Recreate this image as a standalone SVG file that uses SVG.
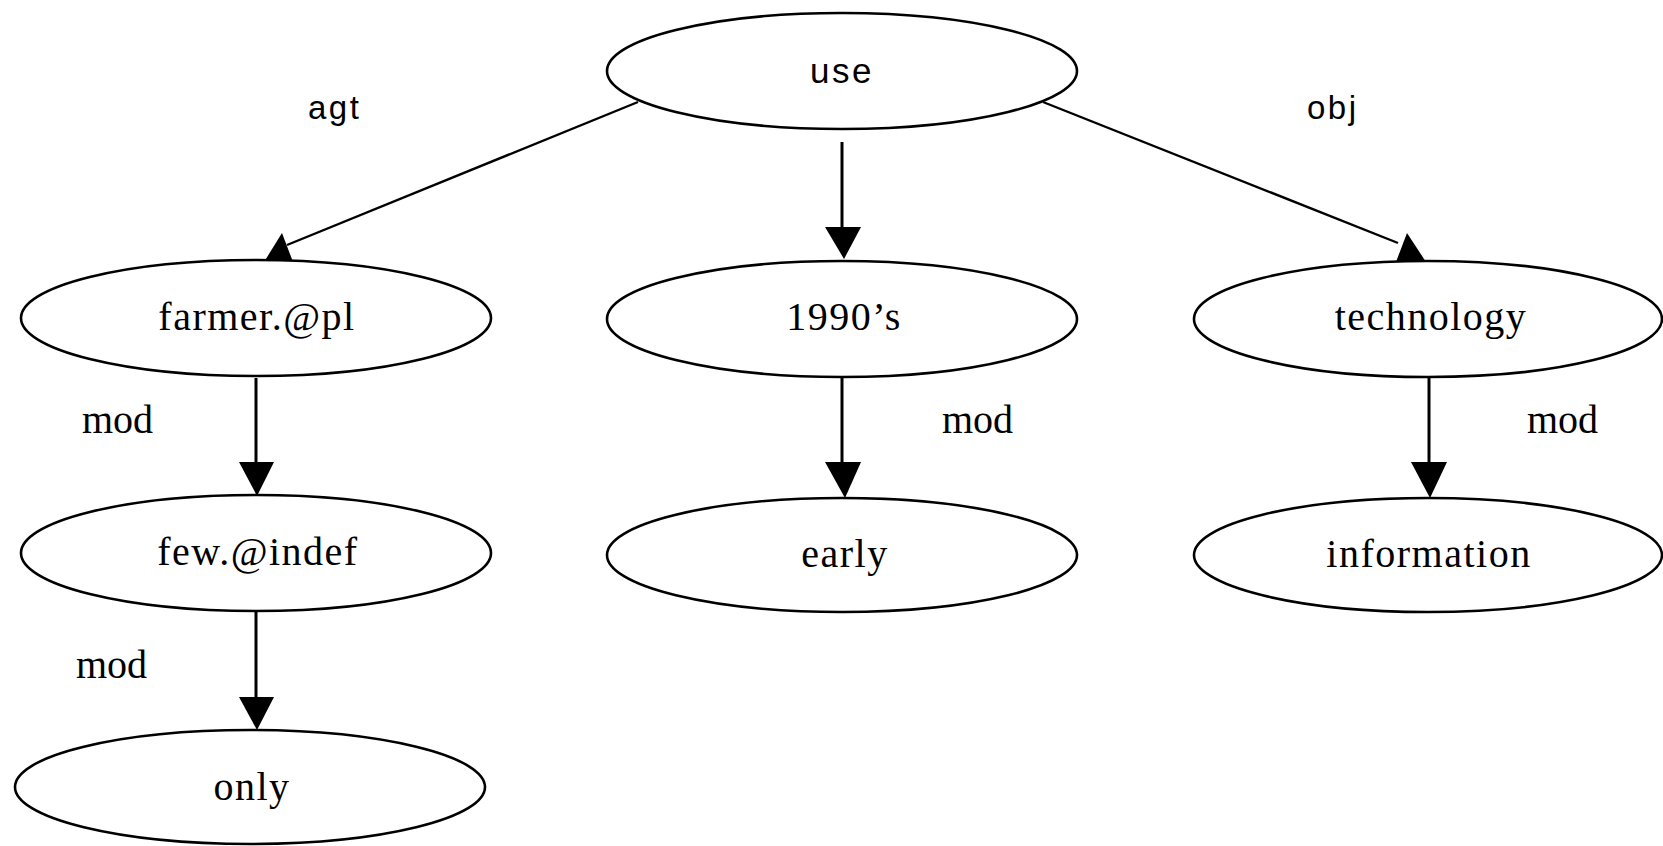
<svg xmlns="http://www.w3.org/2000/svg" width="1663" height="846" viewBox="0 0 1663 846">
  <style>
    .node { fill: #ffffff; stroke: #000000; stroke-width: 2.6; }
    .lbl { font-family: "Liberation Serif", "Times New Roman", serif; font-size: 40px; letter-spacing: 1.5px; fill: #000000; text-anchor: middle; }
    .rel { font-family: "Liberation Serif", "Times New Roman", serif; font-size: 40px; fill: #000000; }
    .sans { font-family: "Liberation Sans", Arial, sans-serif; font-size: 33px; letter-spacing: 2.5px; fill: #000000; }
    .big { font-size: 35px; }
    .edge { stroke: #000000; fill: none; }
    .thin { stroke-width: 2.4; }
    .thick { stroke-width: 3; }
    .head { fill: #000000; stroke: none; }
  </style>

  <rect width="1663" height="846" fill="#ffffff"/>

  <!-- connectors -->
  <g id="connectors">
    <!-- use -> farmer.@pl (agt) -->
    <line class="edge thin" x1="638" y1="102" x2="287" y2="245"/>
    <polygon class="head" points="282,233 264,262 293,262"/>
    <!-- use -> 1990's -->
    <line class="edge thick" x1="842" y1="142" x2="842" y2="230"/>
    <polygon class="head" points="825,227 861,227 844,259"/>
    <!-- use -> technology (obj) -->
    <line class="edge thin" x1="1043" y1="102" x2="1398" y2="243"/>
    <polygon class="head" points="1407,233 1396,262 1426,262"/>
    <!-- farmer.@pl -> few.@indef -->
    <line class="edge thick" x1="256" y1="378" x2="256" y2="465"/>
    <polygon class="head" points="239,462 274,462 257,496"/>
    <!-- few.@indef -> only -->
    <line class="edge thick" x1="256" y1="612" x2="256" y2="700"/>
    <polygon class="head" points="239,697 274,697 257,730"/>
    <!-- 1990's -> early -->
    <line class="edge thick" x1="842" y1="378" x2="842" y2="465"/>
    <polygon class="head" points="825,462 861,462 845,498"/>
    <!-- technology -> information -->
    <line class="edge thick" x1="1429" y1="378" x2="1429" y2="465"/>
    <polygon class="head" points="1411,462 1447,462 1430,498"/>

    <!-- relation labels -->
    <text class="sans" x="308" y="119">agt</text>
    <text class="sans" x="1307" y="119">obj</text>
    <text class="rel" x="82" y="433">mod</text>
    <text class="rel" x="942" y="433">mod</text>
    <text class="rel" x="1527" y="433">mod</text>
    <text class="rel" x="76" y="678">mod</text>
  </g>

  <!-- nodes -->
  <g id="node-use">
    <ellipse class="node" cx="842" cy="71" rx="235" ry="58"/>
    <text class="sans big" x="842" y="83" text-anchor="middle">use</text>
  </g>
  <g id="node-farmer">
    <ellipse class="node" cx="256" cy="318" rx="235" ry="58"/>
    <text class="lbl" x="257" y="330">farmer.@pl</text>
  </g>
  <g id="node-1990s">
    <ellipse class="node" cx="842" cy="319" rx="235" ry="58"/>
    <text class="lbl" x="844" y="330">1990’s</text>
  </g>
  <g id="node-technology">
    <ellipse class="node" cx="1428" cy="319" rx="234" ry="58"/>
    <text class="lbl" x="1431" y="330">technology</text>
  </g>
  <g id="node-few">
    <ellipse class="node" cx="256" cy="553" rx="235" ry="58"/>
    <text class="lbl" x="258" y="565">few.@indef</text>
  </g>
  <g id="node-early">
    <ellipse class="node" cx="842" cy="555" rx="235" ry="57"/>
    <text class="lbl" x="845" y="567">early</text>
  </g>
  <g id="node-information">
    <ellipse class="node" cx="1428" cy="555" rx="234" ry="57"/>
    <text class="lbl" x="1429" y="567">information</text>
  </g>
  <g id="node-only">
    <ellipse class="node" cx="250" cy="787" rx="235" ry="57"/>
    <text class="lbl" x="252" y="800">only</text>
  </g>
</svg>
